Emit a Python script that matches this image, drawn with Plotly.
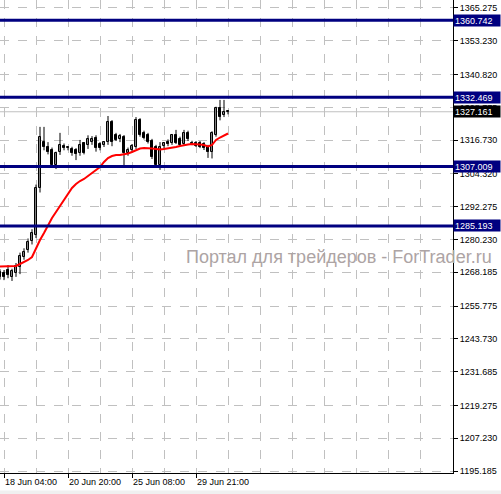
import plotly.graph_objects as go

# ---------------- data ----------------
bar_index = list(range(58))

opens = [1268.3, 1268.0, 1269.2, 1266.5, 1267.8, 1270.3, 1273.8, 1276.4, 1279.5, 1282.0,
         1299.0, 1316.0, 1314.2, 1313.1, 1307.6, 1312.4, 1314.6, 1313.8, 1313.5, 1313.1,
         1312.0, 1315.7, 1315.0, 1316.0, 1317.5, 1315.3, 1314.9, 1316.0, 1323.4, 1318.6,
         1317.0, 1317.9, 1312.0, 1313.1, 1314.2, 1324.1, 1319.4, 1318.6, 1316.4, 1314.2,
         1307.6, 1314.6, 1316.0, 1315.7, 1318.6, 1317.2, 1315.3, 1319.4, 1315.8, 1315.6,
         1315.7, 1315.3, 1314.2, 1312.4, 1318.6, 1328.5, 1325.9, 1327.0]
closes = [1266.5, 1266.3, 1267.3, 1268.5, 1270.6, 1274.3, 1275.5, 1279.3, 1282.6, 1299.2,
          1317.9, 1314.2, 1312.4, 1307.6, 1312.0, 1314.9, 1313.8, 1313.9, 1312.0, 1311.7,
          1315.0, 1312.0, 1317.2, 1317.2, 1313.8, 1313.8, 1316.0, 1323.4, 1316.0, 1316.8,
          1318.2, 1312.0, 1313.1, 1314.4, 1324.1, 1318.6, 1317.5, 1316.0, 1310.5, 1307.6,
          1314.2, 1315.7, 1315.3, 1318.6, 1315.7, 1315.0, 1319.4, 1317.2, 1315.3, 1314.6,
          1314.2, 1313.8, 1312.4, 1319.4, 1328.5, 1325.2, 1327.0, 1327.161]
highs = [1269.3, 1269.0, 1270.8, 1269.5, 1271.6, 1275.4, 1277.0, 1280.6, 1284.0, 1300.4,
         1321.6, 1321.6, 1316.0, 1314.0, 1312.5, 1319.4, 1315.5, 1314.5, 1314.3, 1313.8,
         1316.8, 1316.0, 1318.5, 1318.2, 1318.5, 1316.0, 1316.4, 1325.6, 1324.1, 1319.4,
         1319.0, 1318.6, 1314.0, 1315.3, 1325.2, 1324.8, 1320.2, 1319.4, 1317.2, 1315.0,
         1316.0, 1316.0, 1317.0, 1319.0, 1320.5, 1318.0, 1320.5, 1320.2, 1316.5, 1316.4,
         1316.4, 1316.0, 1315.0, 1320.0, 1329.0, 1331.5, 1331.5, 1327.8]
lows = [1265.5, 1265.3, 1266.0, 1265.0, 1266.5, 1267.5, 1272.8, 1275.4, 1278.4, 1280.8,
        1297.5, 1313.0, 1311.5, 1306.5, 1306.1, 1311.3, 1313.0, 1313.0, 1311.0, 1309.4,
        1311.0, 1311.5, 1313.5, 1315.0, 1312.5, 1313.0, 1314.2, 1315.0, 1314.5, 1316.4,
        1316.0, 1306.9, 1311.0, 1312.3, 1313.5, 1318.0, 1317.0, 1315.5, 1309.8, 1306.9,
        1305.8, 1313.5, 1314.5, 1315.0, 1315.3, 1314.5, 1314.6, 1316.4, 1314.9, 1314.2,
        1313.8, 1313.1, 1310.2, 1310.0, 1318.0, 1324.0, 1325.2, 1326.2]
ma_values = [1270.31, 1270.31, 1270.31, 1270.31, 1270.49, 1271.23, 1271.96, 1272.70, 1273.80, 1277.11,
             1280.05, 1282.61, 1285.56, 1288.12, 1290.33, 1292.53, 1294.74, 1297.31, 1299.15, 1300.62,
             1301.72, 1302.45, 1303.56, 1304.66, 1305.76, 1306.86, 1308.70, 1310.17, 1310.90, 1311.27,
             1311.27, 1311.45, 1311.82, 1312.37, 1312.92, 1313.66, 1313.84, 1313.84, 1313.66, 1313.47,
             1313.29, 1313.47, 1313.66, 1313.84, 1314.21, 1314.57, 1314.94, 1315.13, 1315.31, 1315.31,
             1315.13, 1314.94, 1314.39, 1314.94, 1316.78, 1317.70, 1318.43, 1319.17]

levels = [1360.742, 1332.469, 1307.009, 1285.193]
bid_price = 1327.161
price_ticks = [1365.275, 1353.230, 1340.820, 1328.775, 1316.730, 1304.320, 1292.275,
               1280.230, 1268.185, 1255.775, 1243.730, 1231.685, 1219.275, 1207.230, 1195.185]
date_tick_index = [1, 17, 33, 49]
date_labels = ["18 Jun 04:00", "20 Jun 20:00", "25 Jun 08:00", "29 Jun 21:00"]
watermark = "Портал для трейдеров - ForTrader.ru"

# ---------------- build ----------------
FONT = "Liberation Sans, Arial, sans-serif"
NAVY = "#000080"

fig = go.Figure()

# bid line
fig.add_shape(type="line", xref="paper", x0=0, x1=1, yref="y", y0=bid_price, y1=bid_price,
              line=dict(color="#c0c0c0", width=1), layer="below")

# wicks
wx, wy = [], []
for i, h, l in zip(bar_index, highs, lows):
    wx += [i, i, None]
    wy += [l, h, None]
fig.add_trace(go.Scatter(x=wx, y=wy, mode="lines", line=dict(color="black", width=1),
                         hoverinfo="skip", showlegend=False))

# bodies
bx_up, by_up, bb_up, bx_dn, by_dn, bb_dn = [], [], [], [], [], []
for i, o, c in zip(bar_index, opens, closes):
    if c >= o:
        bx_up.append(i); bb_up.append(o); by_up.append(max(c - o, 0.3))
    else:
        bx_dn.append(i); bb_dn.append(c); by_dn.append(max(o - c, 0.3))
fig.add_trace(go.Bar(x=bx_up, y=by_up, base=bb_up, width=0.5,
                     marker=dict(color="white", line=dict(color="black", width=1)),
                     showlegend=False, hoverinfo="skip"))
fig.add_trace(go.Bar(x=bx_dn, y=by_dn, base=bb_dn, width=0.5,
                     marker=dict(color="black", line=dict(color="black", width=1)),
                     showlegend=False, hoverinfo="skip"))

# moving average
fig.add_trace(go.Scatter(x=bar_index, y=ma_values, mode="lines",
                         line=dict(color="#ff0000", width=2), showlegend=False, hoverinfo="skip"))

# horizontal levels
for lv in levels:
    fig.add_shape(type="line", xref="paper", x0=0, x1=1, yref="y", y0=lv, y1=lv,
                  line=dict(color=NAVY, width=3), layer="above")

# highlighted price labels
for lv in levels:
    fig.add_annotation(xref="paper", x=1, xanchor="left", xshift=0, yref="y", y=lv,
                       text=f"{lv:.3f}", showarrow=False, bgcolor=NAVY,
                       font=dict(family=FONT, size=9, color="white"),
                       width=44, height=9, align="left", borderpad=1)
fig.add_annotation(xref="paper", x=1, xanchor="left", yref="y", y=bid_price,
                   text=f"{bid_price:.3f}", showarrow=False, bgcolor="black",
                   font=dict(family=FONT, size=9, color="white"),
                   width=44, height=9, align="left", borderpad=1)

# watermark
fig.add_annotation(xref="paper", x=184 / 453, xanchor="left", yref="paper", y=0.4567,
                   yanchor="middle", text=watermark, showarrow=False,
                   font=dict(family=FONT, size=18, color="#ada4a4"))

# bottom window strip
fig.add_shape(type="rect", xref="paper", yref="paper", x0=-0.01, x1=1.2, y0=-0.0445, y1=-0.037,
              fillcolor="#f0f0f0", line=dict(width=0), layer="below")

fig.update_layout(
    width=501, height=494,
    margin=dict(l=0, r=48, t=0, b=21),
    plot_bgcolor="white", paper_bgcolor="white",
    barmode="overlay", bargap=0,
    font=dict(family=FONT, size=9, color="black"),
    xaxis=dict(range=[0, 113.25], tickmode="array", tickvals=date_tick_index,
               ticktext=date_labels, ticks="outside", ticklen=4, tickcolor="black",
               ticklabelposition="outside right",
               showline=True, linecolor="black", linewidth=1,
               showgrid=True, gridcolor="#c0c0c0", griddash="dash", gridwidth=1,
               minor=dict(tickmode="linear", tick0=1, dtick=8, showgrid=True,
                          gridcolor="#c0c0c0", griddash="dash", gridwidth=1, ticklen=0),
               zeroline=False, fixedrange=True,
               tickfont=dict(family=FONT, size=9, color="black")),
    yaxis=dict(range=[1194.45, 1368.212], side="right", tickmode="array",
               tickvals=price_ticks, ticktext=[f"{p:.3f}" for p in price_ticks],
               ticks="outside", ticklen=4, tickcolor="black",
               showline=True, linecolor="black", linewidth=1,
               showgrid=True, gridcolor="#c0c0c0", griddash="dash", gridwidth=1,
               zeroline=False, fixedrange=True,
               tickfont=dict(family=FONT, size=9, color="black")),
)

fig.write_html("out.html", config={"displayModeBar": False},
               post_script="document.body.style.margin='0px';document.body.style.padding='0px';")
